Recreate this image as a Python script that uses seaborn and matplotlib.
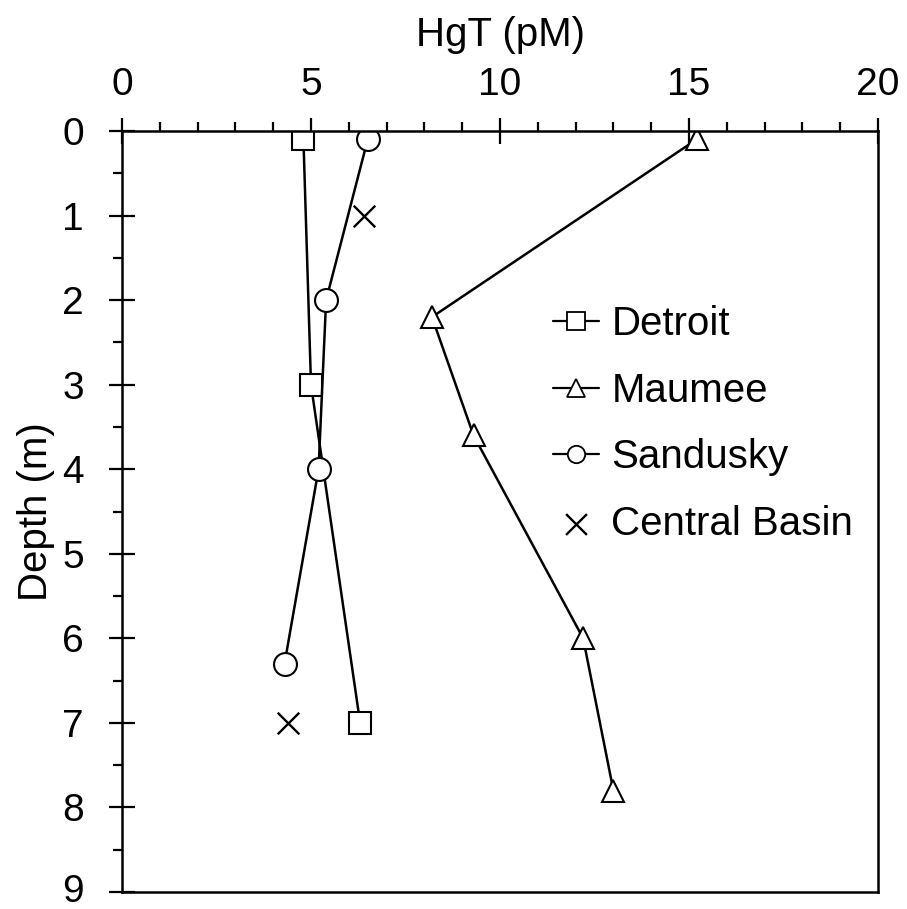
import matplotlib
matplotlib.use("Agg")
import matplotlib.pyplot as plt
from matplotlib.ticker import MultipleLocator
from matplotlib.lines import Line2D
from matplotlib.transforms import ScaledTranslation
import seaborn as sns
import pandas as pd

# ---- data ----
detroit_depth = [0.1, 3.0, 7.0]
detroit_hgt = [4.8, 5.0, 6.3]

maumee_depth = [0.1, 2.2, 3.6, 6.0, 7.8]
maumee_hgt = [15.2, 8.2, 9.3, 12.2, 13.0]

sandusky_depth = [0.1, 2.0, 4.0, 6.3]
sandusky_hgt = [6.5, 5.4, 5.2, 4.3]

central_depth = [1.0, 7.0]
central_hgt = [6.4, 4.4]

x_ticks = [0, 5, 10, 15, 20]
y_ticks = [0, 1, 2, 3, 4, 5, 6, 7, 8, 9]

sns.set_style("white")
plt.rcParams["font.family"] = ["Liberation Sans", "DejaVu Sans"]
plt.rcParams["text.color"] = "black"

FS = 29
TFS = 28
fig = plt.figure(figsize=(9.07, 9.09), dpi=100)
ax = fig.add_axes([122 / 907, 1 - 892 / 909, 756 / 907, 761 / 909])

line_kw = dict(color="black", linewidth=1.8, markersize=16.5,
               markerfacecolor="white", markeredgecolor="black",
               markeredgewidth=1.5, sort=False, estimator=None, ax=ax)

sns.lineplot(x=detroit_hgt, y=detroit_depth, marker="s", label="Detroit", **line_kw)
sns.lineplot(x=maumee_hgt, y=maumee_depth, marker="^", label="Maumee", **line_kw)
sns.lineplot(x=sandusky_hgt, y=sandusky_depth, marker="o", label="Sandusky", **line_kw)
sns.scatterplot(x=central_hgt, y=central_depth, marker="x", s=15.5 ** 2,
                color="black", linewidth=1.7, label="Central Basin", ax=ax)

ax.set_xlim(0, 20)
ax.set_ylim(9, 0)
ax.set_xticks(x_ticks)
ax.set_yticks(y_ticks)
ax.xaxis.set_minor_locator(MultipleLocator(1))
ax.yaxis.set_minor_locator(MultipleLocator(0.5))
ax.xaxis.tick_top()
ax.xaxis.set_label_position("top")

for s in ax.spines.values():
    s.set_color("black")
    s.set_linewidth(1.8)

ax.tick_params(which="major", direction="inout", length=18.7, width=1.6,
               color="black", labelsize=TFS, labelcolor="black")
ax.tick_params(which="minor", direction="out", length=6.5, width=1.6, color="black")
ax.tick_params(axis="x", which="both", top=True, bottom=False,
               labeltop=True, labelbottom=False)
ax.tick_params(axis="y", which="both", left=True, right=False)
ax.tick_params(axis="x", which="major", pad=11)
ax.tick_params(axis="y", which="major", pad=18)

ax.set_xlabel("HgT (pM)", fontsize=FS, labelpad=15, color="black")
ax.set_ylabel("Depth (m)", fontsize=FS, labelpad=5, color="black")

# keep the bottom tick label inside the canvas
last_tick = ax.yaxis.get_major_ticks()[-1]
last_tick.label1.set_transform(last_tick.label1.get_transform()
                               + ScaledTranslation(0, 3 / 72, fig.dpi_scale_trans))

leg = ax.legend(loc="center left", bbox_to_anchor=(0.570, 0.615), frameon=False,
                fontsize=FS, borderpad=0, borderaxespad=0, handlelength=1.15,
                handletextpad=0.3, labelspacing=0.705, numpoints=1)
for t in leg.get_texts():
    t.set_color("black")
for h in leg.legend_handles:
    if isinstance(h, Line2D):
        h.set_markersize(12.5)
        h.set_markeredgewidth(1.3)
        h.set_linewidth(1.6)
    else:
        h.set_sizes([15 ** 2])

fig.savefig("out.png", dpi=100, facecolor="white")
